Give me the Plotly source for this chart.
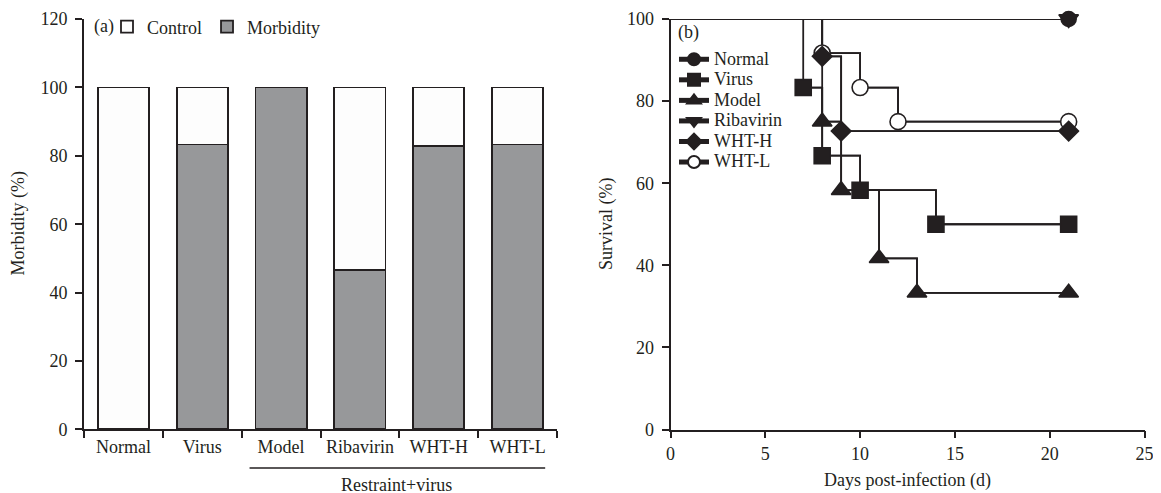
import plotly.graph_objects as go

# ---------------- data ----------------
groups = ["Normal", "Virus", "Model", "Ribavirin", "WHT-H", "WHT-L"]
morbidity = [0, 83.3, 100, 46.5, 82.8, 83.3]
control = [100, 16.7, 0, 53.5, 17.2, 16.7]

normal_days = [0, 21]
normal_surv = [100, 100]
virus_days = [0, 7, 8, 10, 14, 21]
virus_surv = [100, 83.3, 66.7, 58.3, 50, 50]
model_days = [0, 8, 9, 11, 13, 21]
model_surv = [100, 75, 58.3, 41.7, 33.3, 33.3]
riba_days = [0, 21]
riba_surv = [100, 100]
whth_days = [0, 8, 9, 21]
whth_surv = [100, 90.9, 72.7, 72.7]
whtl_days = [0, 8, 10, 12, 21]
whtl_surv = [100, 91.7, 83.3, 75, 75]

INK = "#231f20"
FONT = "Liberation Serif, Times New Roman, serif"
W, H = 1161, 493
OFF = 8  # page body margin in the browser


def px(x):
    return (x - OFF) / W


def py(y):
    return (H - (y - OFF)) / H


fig = go.Figure()

# ---------------- panel (a) ----------------
fig.add_trace(go.Bar(
    x=groups, y=morbidity, name="Morbidity",
    marker=dict(color="#97989a", line=dict(color=INK, width=1.8)),
    xaxis="x", yaxis="y", legend="legend",
))
fig.add_trace(go.Bar(
    x=groups, y=control, name="Control",
    marker=dict(color="#fdfdfd", line=dict(color=INK, width=1.8)),
    xaxis="x", yaxis="y", legend="legend",
))

# ---------------- panel (b) ----------------
series = [
    ("Normal", normal_days, normal_surv, "circle", 15, INK),
    ("Virus", virus_days, virus_surv, "square", 16, INK),
    ("Model", model_days, model_surv, "triangle-up", 17, INK),
    ("Ribavirin", riba_days, riba_surv, "triangle-down", 17, INK),
    ("WHT-L", whtl_days, whtl_surv, "circle", 16, "white"),
    ("WHT-H", whth_days, whth_surv, "diamond", 15, INK),
]
legend_order = {"Normal": 1, "Virus": 2, "Model": 3, "Ribavirin": 4, "WHT-H": 5, "WHT-L": 6}
for name, d, s, sym, size, fill in series:
    # full step line from day 0
    fig.add_trace(go.Scatter(
        x=d, y=s, mode="lines", line=dict(color=INK, width=1.8, shape="hv"),
        showlegend=False, hoverinfo="skip", xaxis="x2", yaxis="y2", cliponaxis=False,
    ))
for name, d, s, sym, size, fill in series:
    fig.add_trace(go.Scatter(
        x=d[1:], y=s[1:], mode="lines+markers", name=f'<span style="font-size:18px">{name}</span>',
        line=dict(color=INK, width=1.8, shape="hv"),
        marker=dict(symbol=sym, size=size, color=fill, line=dict(color=INK, width=1.6)),
        xaxis="x2", yaxis="y2", legend="legend2", cliponaxis=False,
        legendrank=legend_order[name],
    ))

axis_common = dict(
    showline=True, linecolor=INK, linewidth=1.6, showgrid=False, zeroline=False,
    ticks="outside", ticklen=7, tickwidth=1.6, tickcolor=INK,
    tickfont=dict(family=FONT, size=18, color=INK), automargin=False,
)

fig.update_layout(
    width=W, height=H,
    margin=dict(l=0, r=0, t=0, b=0, autoexpand=False),
    paper_bgcolor="white", plot_bgcolor="white",
    font=dict(family=FONT, size=18, color=INK),
    barmode="stack", bargap=0.35,
    xaxis=dict(domain=[px(84), px(557)], tickson="boundaries", **axis_common),
    yaxis=dict(domain=[py(429.3), py(19.1)], range=[0, 120], tickvals=[0, 20, 40, 60, 80, 100, 120],
               ticklabelstandoff=4, **axis_common),
    xaxis2=dict(domain=[px(670.5), px(1144.5)], range=[0, 25], tickvals=[0, 5, 10, 15, 20, 25],
                anchor="y2", **axis_common),
    yaxis2=dict(domain=[py(429.5), py(19)], range=[0, 100], tickvals=[0, 20, 40, 60, 80, 100],
                anchor="x2", ticklabelstandoff=4, **axis_common),
    legend=dict(orientation="h", x=px(107), xanchor="left", y=py(27), yanchor="middle",
                traceorder="reversed", bgcolor="rgba(0,0,0,0)", font=dict(family=FONT, size=18, color=INK),
                itemclick=False),
    legend2=dict(orientation="v", x=px(674), xanchor="left", y=py(44), yanchor="top",
                 bgcolor="rgba(0,0,0,0)", font=dict(family=FONT, size=13.5, color=INK),
                 itemsizing="constant", tracegroupgap=0),
    showlegend=True,
)

fig.add_shape(type="line", xref="x", yref="paper", x0=1.6, x1=5.35, y0=py(468), y1=py(468),
              line=dict(color=INK, width=1.6))
annotations = [
    dict(text="Restraint+virus", xref="x", yref="paper", x=3.47, y=py(485), showarrow=False,
         xanchor="center", yanchor="middle"),
    dict(text="(a)", xref="paper", yref="paper", x=px(92), y=py(27), showarrow=False,
         xanchor="left", yanchor="middle"),
    dict(text="(b)", xref="paper", yref="paper", x=px(676), y=py(33), showarrow=False,
         xanchor="left", yanchor="middle"),
    dict(text="Morbidity (%)", xref="paper", yref="paper", x=px(17.5), y=py(224), showarrow=False,
         textangle=-90, xanchor="center", yanchor="middle"),
    dict(text="Survival (%)", xref="paper", yref="paper", x=px(606), y=py(224), showarrow=False,
         textangle=-90, xanchor="center", yanchor="middle"),
    dict(text="Days post-infection (d)", xref="paper", yref="paper", x=px(907.5), y=py(480), showarrow=False,
         xanchor="center", yanchor="middle"),
]
for a in annotations:
    a["font"] = dict(family=FONT, size=18, color=INK)
    fig.add_annotation(**a)

fig.write_html("out.html")
